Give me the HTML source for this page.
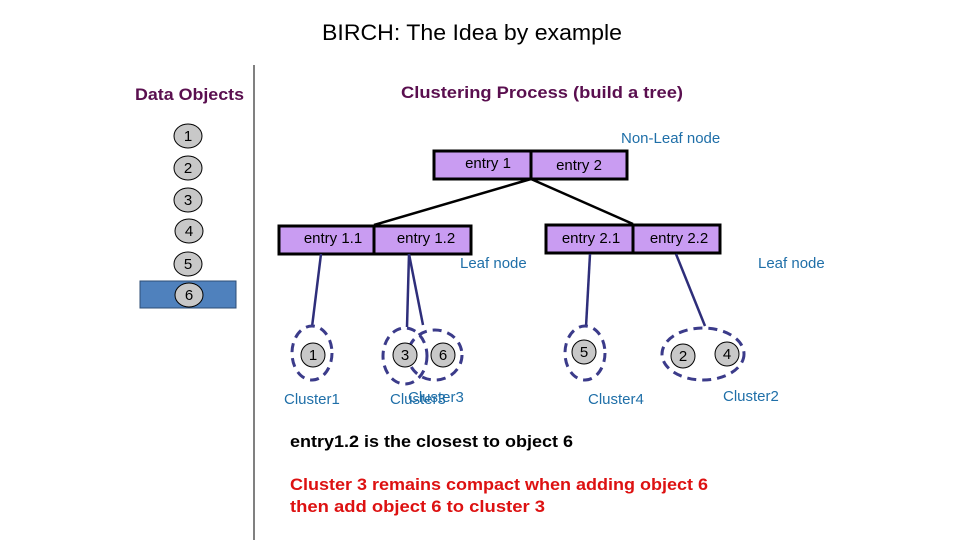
<!DOCTYPE html>
<html><head><meta charset="utf-8"><style>html,body{margin:0;padding:0;background:#fff}svg{display:block}</style></head>
<body>
<svg width="960" height="540" viewBox="0 0 960 540" xmlns="http://www.w3.org/2000/svg" font-family="'Liberation Sans', sans-serif">
<text x="322" y="40" font-size="22" fill="#000" textLength="300" lengthAdjust="spacingAndGlyphs">BIRCH: The Idea by example</text>
<line x1="254" y1="65" x2="254" y2="540" stroke="#000" stroke-width="1"/>
<text x="135" y="100" font-size="17" font-weight="bold" fill="#5a0f4f" textLength="109" lengthAdjust="spacingAndGlyphs">Data Objects</text>
<text x="401" y="98" font-size="17" font-weight="bold" fill="#5a0f4f" textLength="282" lengthAdjust="spacingAndGlyphs">Clustering Process  (build a tree)</text>
<rect x="140" y="281" width="96" height="27" fill="#4f81bd" stroke="#2c4d75" stroke-width="1"/>
<g fill="#c8c8c8" stroke="#000" stroke-width="1">
<ellipse cx="188" cy="136" rx="14" ry="12"/><ellipse cx="188" cy="168" rx="14" ry="12"/><ellipse cx="188" cy="200" rx="14" ry="12"/>
<ellipse cx="189" cy="231" rx="14" ry="12"/><ellipse cx="188" cy="264" rx="14" ry="12"/><ellipse cx="189" cy="295" rx="14" ry="12"/>
</g>
<g font-size="15" text-anchor="middle" fill="#000">
<text x="188" y="141">1</text><text x="188" y="173">2</text><text x="188" y="205">3</text><text x="189" y="236">4</text><text x="188" y="269">5</text><text x="189" y="300">6</text>
</g>
<g stroke="#000" stroke-width="2.5">
<line x1="531" y1="179" x2="374" y2="225"/><line x1="531" y1="179" x2="633" y2="224"/>
</g>
<g fill="#c99cf2" stroke="#000" stroke-width="3">
<rect x="434" y="151" width="193" height="28"/><line x1="531" y1="151" x2="531" y2="179"/>
<rect x="279" y="226" width="192" height="28"/><line x1="374" y1="226" x2="374" y2="254"/>
<rect x="546" y="225" width="174" height="28"/><line x1="633" y1="225" x2="633" y2="253"/>
</g>
<g font-size="15" fill="#000" text-anchor="middle">
<text x="488" y="168">entry 1</text><text x="579" y="170">entry 2</text>
<text x="333" y="243">entry 1.1</text><text x="426" y="243">entry 1.2</text>
<text x="591" y="243">entry 2.1</text><text x="679" y="243">entry 2.2</text>
</g>
<g font-size="15" fill="#1f6fa8">
<text x="621" y="143">Non-Leaf node</text>
<text x="460" y="268">Leaf node</text>
<text x="758" y="268">Leaf node</text>
<text x="284" y="404">Cluster1</text>
<text x="390" y="404">Cluster3</text><text x="408" y="402">Cluster3</text>
<text x="588" y="404">Cluster4</text>
<text x="723" y="401">Cluster2</text>
</g>
<g stroke="#2e2e7a" stroke-width="2.5" fill="none">
<line x1="321" y1="254" x2="312" y2="327"/>
<line x1="409" y1="254" x2="407" y2="327"/><line x1="409" y1="254" x2="423" y2="325"/>
<line x1="590" y1="254" x2="586" y2="327"/>
<line x1="676" y1="254" x2="705" y2="326"/>
</g>
<g stroke="#3b3b8a" stroke-width="3" fill="none" stroke-dasharray="9 6">
<ellipse cx="312" cy="353" rx="20" ry="27"/>
<ellipse cx="405" cy="356" rx="22" ry="28"/>
<ellipse cx="435" cy="355" rx="27" ry="25"/>
<ellipse cx="585" cy="353" rx="20" ry="27"/>
<ellipse cx="703" cy="354" rx="41" ry="26"/>
</g>
<g fill="#c8c8c8" stroke="#000" stroke-width="1">
<ellipse cx="313" cy="355" rx="12" ry="12"/><ellipse cx="405" cy="355" rx="12" ry="12"/><ellipse cx="443" cy="355" rx="12" ry="12"/>
<ellipse cx="584" cy="352" rx="12" ry="12"/><ellipse cx="683" cy="356" rx="12" ry="12"/><ellipse cx="727" cy="354" rx="12" ry="12"/>
</g>
<g font-size="15" text-anchor="middle" fill="#000">
<text x="313" y="360">1</text><text x="405" y="360">3</text><text x="443" y="360">6</text>
<text x="584" y="357">5</text><text x="683" y="361">2</text><text x="727" y="359">4</text>
</g>
<text x="290" y="447" font-size="17" font-weight="bold" fill="#000" textLength="283" lengthAdjust="spacingAndGlyphs">entry1.2 is the closest to object 6</text>
<text x="290" y="490" font-size="17" font-weight="bold" fill="#dd1111" textLength="418" lengthAdjust="spacingAndGlyphs">Cluster 3 remains compact when adding object 6</text>
<text x="290" y="512" font-size="17" font-weight="bold" fill="#dd1111" textLength="255" lengthAdjust="spacingAndGlyphs">then  add object 6 to cluster 3</text>
</svg>
</body></html>
